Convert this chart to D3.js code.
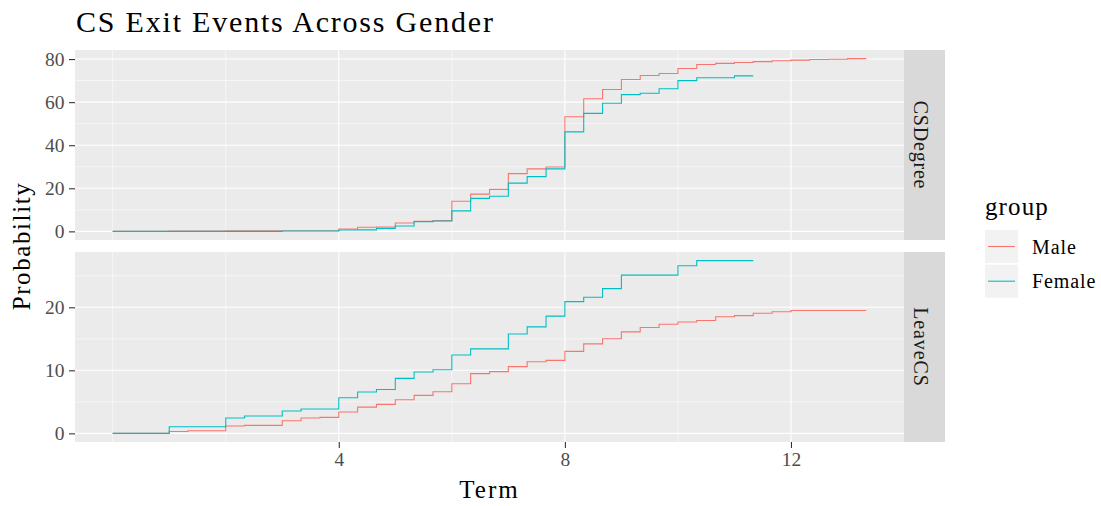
<!DOCTYPE html>
<html>
<head>
<meta charset="utf-8">
<script src="https://cdn.jsdelivr.net/npm/d3@7"></script>
<style>
  html, body { margin: 0; padding: 0; background: #ffffff; }
  svg { display: block; }
  text { font-family: "Liberation Serif", "Times New Roman", serif; }
</style>
</head>
<body>
<svg id="chart" width="1101" height="506"></svg>
<script>
// ---------------- data ----------------
const terms = [0, 0.333, 0.667, 1, 1.333, 1.667, 2, 2.333, 2.667, 3, 3.333, 3.667,
  4, 4.333, 4.667, 5, 5.333, 5.667, 6, 6.333, 6.667, 7, 7.333, 7.667,
  8, 8.333, 8.667, 9, 9.333, 9.667, 10, 10.333, 10.667, 11, 11.333, 11.667,
  12, 12.333, 12.667, 13, 13.333];

const groups = ["Male", "Female"];
const facets = ["CSDegree", "LeaveCS"];

const degreeMale = [0, 0, 0, 0.2, 0.2, 0.2, 0.3, 0.3, 0.3, 0.3, 0.3, 0.3,
  1.1, 1.9, 2.0, 3.9, 4.7, 5.0, 14.0, 17.3, 19.5, 26.8, 29.0, 29.9,
  53.2, 61.6, 65.9, 70.5, 72.4, 73.3, 75.6, 77.5, 78.0, 78.4, 78.8, 79.2,
  79.5, 79.8, 79.9, 80.2, 80.2];
const degreeFemale = [0, 0, 0, 0, 0, 0, 0, 0, 0, 0.2, 0.2, 0.2,
  0.6, 0.7, 1.4, 2.5, 4.5, 4.8, 9.5, 15.3, 16.3, 22.4, 25.4, 29.0,
  46.2, 54.8, 59.5, 63.5, 64.1, 66.2, 70.0, 71.3, 71.3, 72.2, 72.2];
const leaveMale = [0, 0, 0, 0.3, 0.42, 0.42, 1.16, 1.27, 1.27, 2.0, 2.43, 2.54,
  3.38, 4.17, 4.6, 5.33, 6.03, 6.6, 7.88, 9.47, 9.79, 10.58, 11.37, 11.58,
  13.0, 14.2, 15.0, 16.1, 16.8, 17.3, 17.67, 17.9, 18.5, 18.67, 19.05, 19.3,
  19.5, 19.5, 19.5, 19.5, 19.5];
const leaveFemale = [0, 0, 0, 1.06, 1.06, 1.06, 2.43, 2.75, 2.75, 3.54, 3.86, 3.86,
  5.66, 6.56, 6.95, 8.73, 9.73, 10.1, 12.43, 13.4, 13.4, 15.76, 16.9, 18.6,
  20.9, 21.6, 22.96, 25.1, 25.1, 25.1, 26.6, 27.4, 27.4, 27.4, 27.4];

const xTicks = [4, 8, 12];
const xMinor = [0, 2, 6, 10];
const degreeTicks = [0, 20, 40, 60, 80];
const degreeMinor = [10, 30, 50, 70];
const leaveTicks = [0, 10, 20];
const leaveMinor = [5, 15, 25];

const titleText = "CS Exit Events Across Gender";
const xTitle = "Term";
const yTitle = "Probability";
const legendTitle = "group";

// ---------------- layout ----------------
const colors = { Male: "#F8766D", Female: "#00BFC4" };
const svg = d3.select("#chart");
const panelL = 75, panelR = 904, stripW = 41;
const panels = [
  { name: facets[0], top: 50, bottom: 240, series: { Male: degreeMale, Female: degreeFemale }, ticks: degreeTicks, minor: degreeMinor, ls: "0.8px" },
  { name: facets[1], top: 252, bottom: 442, series: { Male: leaveMale, Female: leaveFemale }, ticks: leaveTicks, minor: leaveMinor, ls: "0.9px" }
];

function expand(lo, hi) { const d = hi - lo; return [lo - 0.05 * d, hi + 0.05 * d]; }

const x = d3.scaleLinear().domain(expand(0, d3.max(terms))).range([panelL, panelR]);

panels.forEach(p => {
  const allVals = [].concat(p.series.Male, p.series.Female);
  const y = d3.scaleLinear().domain(expand(0, d3.max(allVals))).range([p.bottom, p.top]);
  const g = svg.append("g");
  g.append("rect").attr("x", panelL).attr("y", p.top).attr("width", panelR - panelL).attr("height", p.bottom - p.top).attr("fill", "#EBEBEB");
  // minor grid
  p.minor.forEach(v => g.append("line").attr("x1", panelL).attr("x2", panelR).attr("y1", y(v)).attr("y2", y(v)).attr("stroke", "#fff").attr("stroke-width", 0.55));
  xMinor.forEach(v => g.append("line").attr("y1", p.top).attr("y2", p.bottom).attr("x1", x(v)).attr("x2", x(v)).attr("stroke", "#fff").attr("stroke-width", 0.55));
  // major grid
  p.ticks.forEach(v => g.append("line").attr("x1", panelL).attr("x2", panelR).attr("y1", y(v)).attr("y2", y(v)).attr("stroke", "#fff").attr("stroke-width", 1.1));
  xTicks.forEach(v => g.append("line").attr("y1", p.top).attr("y2", p.bottom).attr("x1", x(v)).attr("x2", x(v)).attr("stroke", "#fff").attr("stroke-width", 1.1));
  // lines
  groups.forEach(grp => {
    const vals = p.series[grp];
    const pts = vals.map((v, i) => [terms[i], v]);
    const line = d3.line().x(d => x(d[0])).y(d => y(d[1])).curve(d3.curveStepAfter);
    g.append("path").attr("d", line(pts)).attr("fill", "none").attr("stroke", colors[grp]).attr("stroke-width", 1.1);
  });
  // y axis
  const ax = d3.axisLeft(y).tickValues(p.ticks).tickSize(6).tickPadding(4.5).tickFormat(d3.format("d"));
  const axg = svg.append("g").attr("transform", `translate(${panelL},0)`).call(ax);
  axg.select(".domain").remove();
  axg.selectAll(".tick line").attr("stroke", "#333333").attr("stroke-width", 1.1);
  axg.selectAll(".tick text").attr("fill", "#4D4D4D").style("font-size", "19.5px").style("font-family", "Liberation Serif");
  // strip
  svg.append("rect").attr("x", panelR).attr("y", p.top).attr("width", stripW).attr("height", p.bottom - p.top).attr("fill", "#D9D9D9");
  const cx = panelR + 16.5, cy = (p.top + p.bottom) / 2;
  svg.append("text").attr("transform", `translate(${cx},${cy}) rotate(90)`).attr("text-anchor", "middle").attr("dy", "0.35em")
    .attr("fill", "#1A1A1A").style("font-size", "20px").style("letter-spacing", p.ls).text(p.name);
  p.yScale = y;
});

// x axis on bottom panel
const xa = d3.axisBottom(x).tickValues(xTicks).tickSize(6).tickPadding(4).tickFormat(d3.format("d"));
const xg = svg.append("g").attr("transform", `translate(0,${panels[1].bottom})`).call(xa);
xg.select(".domain").remove();
xg.selectAll(".tick line").attr("stroke", "#333333").attr("stroke-width", 1.1);
xg.selectAll(".tick text").attr("fill", "#4D4D4D").style("font-size", "19.5px").style("font-family", "Liberation Serif");

// titles
svg.append("text").attr("x", 76).attr("y", 32).attr("fill", "#000").style("font-size", "30px").style("letter-spacing", "1.8px").text(titleText);
svg.append("text").attr("x", (panelL + panelR) / 2).attr("y", 498).attr("text-anchor", "middle").attr("fill", "#000")
  .style("font-size", "25px").style("letter-spacing", "2px").text(xTitle);
svg.append("text").attr("transform", `translate(30,${(panels[0].top + panels[1].bottom) / 2}) rotate(-90)`).attr("text-anchor", "middle")
  .attr("fill", "#000").style("font-size", "25px").style("letter-spacing", "1.6px").text(yTitle);

// legend
const lg = svg.append("g");
lg.append("text").attr("x", 985).attr("y", 215).attr("fill", "#000").style("font-size", "25px").style("letter-spacing", "1.1px").text(legendTitle);
groups.forEach((grp, i) => {
  const ky = 230 + i * 34.7;
  lg.append("rect").attr("x", 985).attr("y", ky).attr("width", 33).attr("height", 33).attr("fill", "#F2F2F2");
  lg.append("line").attr("x1", 988).attr("x2", 1015).attr("y1", ky + 16.5).attr("y2", ky + 16.5).attr("stroke", colors[grp]).attr("stroke-width", 1.1);
  lg.append("text").attr("x", 1032).attr("y", ky + 16.5).attr("dy", "0.35em").attr("fill", "#000").style("font-size", "20px").style("letter-spacing", "0.9px").text(grp);
});
</script>
</body>
</html>
